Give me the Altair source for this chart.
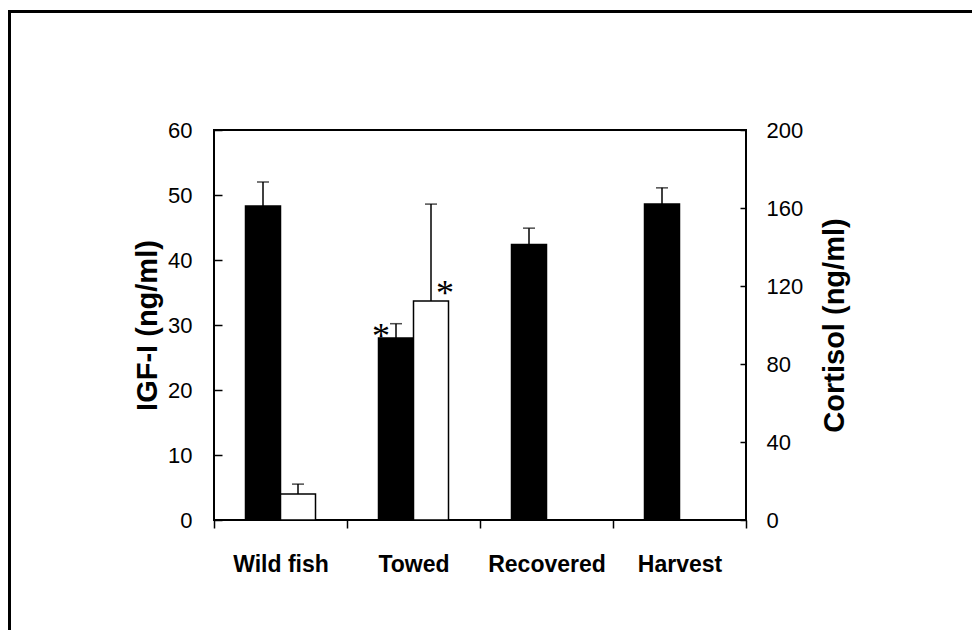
import altair as alt
import pandas as pd

# ---- data ----
groups = ["Wild fish", "Towed", "Recovered", "Harvest"]
series = ["IGF-I", "Cortisol"]

igf_mean = [48.3, 28.0, 42.4, 48.6]
igf_se = [3.7, 2.2, 2.5, 2.5]

cort_groups = ["Wild fish", "Towed"]
cort_mean = [13.3, 112.3]
cort_se = [5.1, 49.7]

igf_sig = ["Towed"]
cort_sig = ["Towed"]

igf_ticks = [0, 10, 20, 30, 40, 50, 60]
cort_ticks = [0, 40, 80, 120, 160, 200]

igf_df = pd.DataFrame({
    "group": groups,
    "series": "IGF-I",
    "value": igf_mean,
    "upper": [m + s for m, s in zip(igf_mean, igf_se)],
    "sig": [g in igf_sig for g in groups],
})
cort_df = pd.DataFrame({
    "group": cort_groups,
    "series": "Cortisol",
    "value": cort_mean,
    "upper": [m + s for m, s in zip(cort_mean, cort_se)],
    "sig": [g in cort_sig for g in cort_groups],
})

LABEL_FONT = "Liberation Sans, Arial, sans-serif"

x_enc = alt.X(
    "group:N",
    sort=groups,
    scale=alt.Scale(domain=groups, paddingInner=0, paddingOuter=0),
    axis=alt.Axis(
        title=None, tickBand="extent", labelAngle=0, domain=False,
        tickSize=8, tickWidth=1.5, tickColor="black",
        labelPadding=25, labelFont=LABEL_FONT, labelFontSize=23,
        labelFontWeight="bold", labelColor="black",
    ),
)
xoff_enc = alt.XOffset(
    "series:N",
    scale=alt.Scale(domain=series, paddingInner=0, paddingOuter=0.9),
)

left_axis = alt.Axis(
    title="IGF-I (ng/ml)", orient="left", values=igf_ticks, domain=False,
    offset=-8, tickSize=8, tickWidth=1.5, tickColor="black",
    labelPadding=22, labelFont=LABEL_FONT, labelFontSize=22, labelColor="black",
    titleFont=LABEL_FONT, titleFontSize=29, titleFontWeight="bold",
    titleColor="black", titlePadding=5, grid=False,
)
right_axis = alt.Axis(
    title="Cortisol (ng/ml)", orient="right", values=cort_ticks, domain=False,
    offset=-6, tickSize=6, tickWidth=1.5, tickColor="black",
    labelPadding=20, labelFont=LABEL_FONT, labelFontSize=22, labelColor="black",
    titleFont=LABEL_FONT, titleFontSize=29, titleFontWeight="bold",
    titleColor="black", titlePadding=18, titleAngle=270, titleBaseline="top",
    grid=False,
)

igf_scale = alt.Scale(domain=[0, 60], nice=False, zero=True)
cort_scale = alt.Scale(domain=[0, 200], nice=False, zero=True)


def build_layer(df, scale, axis, fill, sdx, sdy):
    base = alt.Chart(df)
    bars = base.mark_bar(fill=fill, stroke="black", strokeWidth=1.5).encode(
        x=x_enc, xOffset=xoff_enc,
        y=alt.Y("value:Q", scale=scale, axis=axis),
    )
    err = base.mark_rule(color="black", strokeWidth=1.5).encode(
        x=x_enc, xOffset=xoff_enc,
        y=alt.Y("value:Q", scale=scale, axis=axis),
        y2="upper:Q",
    )
    cap = base.mark_tick(color="black", thickness=1.5, size=12, orient="horizontal").encode(
        x=x_enc, xOffset=xoff_enc,
        y=alt.Y("upper:Q", scale=scale, axis=axis),
    )
    star = base.transform_filter("datum.sig").mark_text(
        text="*", font="Liberation Serif, Times New Roman, serif", fontSize=36,
        baseline="alphabetic", align="center", dx=sdx, dy=sdy, color="black",
    ).encode(
        x=x_enc, xOffset=xoff_enc,
        y=alt.Y("value:Q", scale=scale, axis=axis),
    )
    return alt.layer(bars, err, cap, star)


left = build_layer(igf_df, igf_scale, left_axis, "black", -15, 10)
right = build_layer(cort_df, cort_scale, right_axis, "white", 14, 4)

frame_df = pd.DataFrame({"k": [0]})
frame_top = alt.Chart(frame_df).mark_rule(color="black", strokeWidth=3).encode(
    x=alt.value(-206), x2=alt.value(760), y=alt.value(-118.5)
)
frame_left = alt.Chart(frame_df).mark_rule(color="black", strokeWidth=3).encode(
    x=alt.value(-204.5), y=alt.value(-120), y2=alt.value(500)
)

chart = alt.layer(left, right, frame_top, frame_left).resolve_scale(
    y="independent"
).properties(
    width=532, height=390,
    autosize=alt.AutoSizeParams(type="none"),
    padding={"left": 214, "top": 130, "right": 226, "bottom": 110},
    background="white",
).configure_view(
    stroke="black", strokeWidth=2
).configure_axis(grid=False)

chart.save("out.html", embed_options={"renderer": "svg", "actions": False})
